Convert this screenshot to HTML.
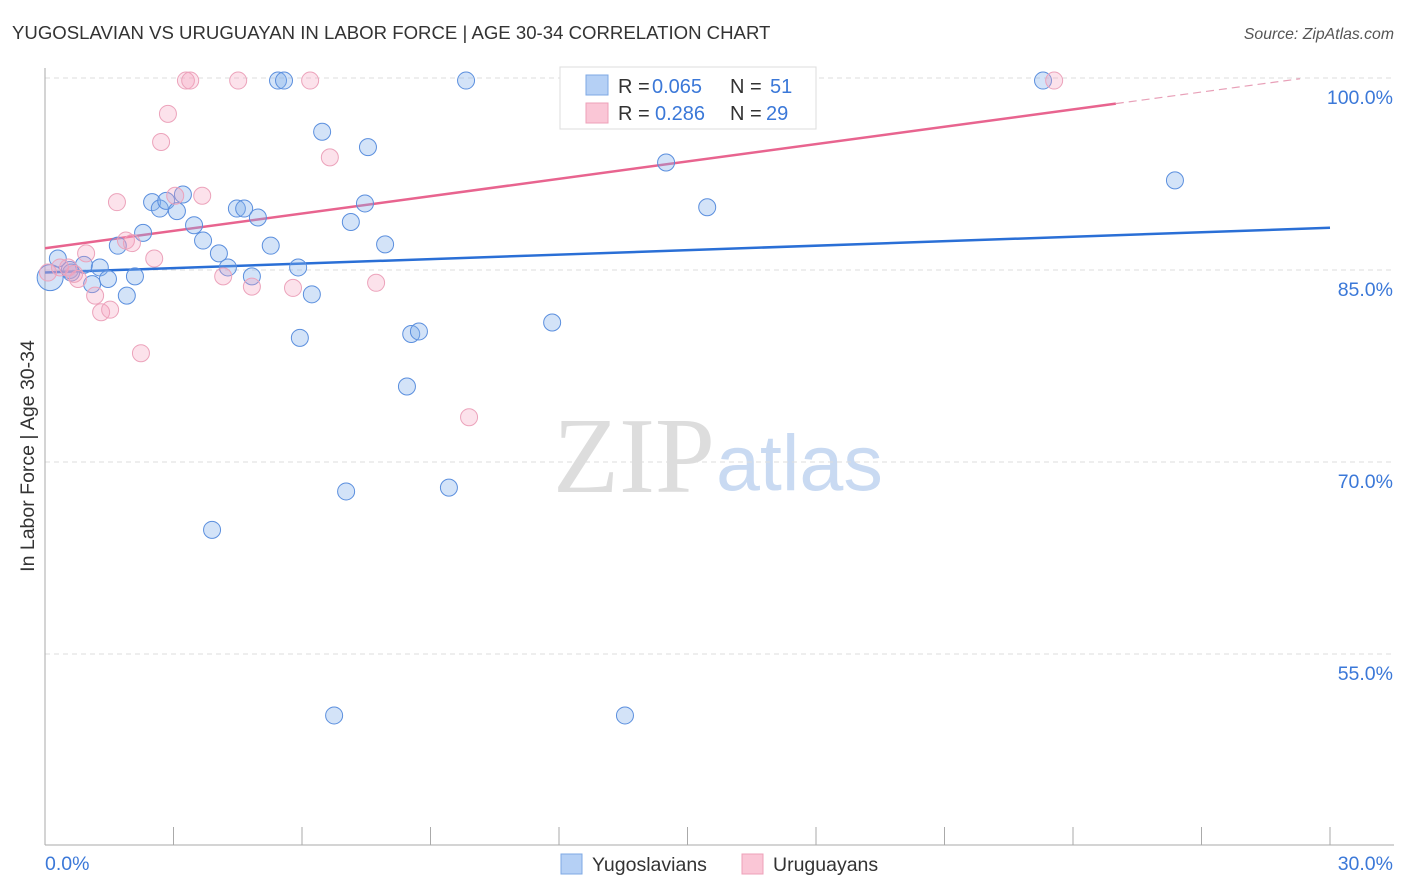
<!DOCTYPE html>
<html><head><meta charset="utf-8"><style>
body{margin:0;background:#fff;font-family:"Liberation Sans",sans-serif;}
#wrap{position:relative;width:1406px;height:892px;overflow:hidden}
</style></head><body>
<div id="wrap">
<svg id="chart" width="1406" height="892" xmlns="http://www.w3.org/2000/svg">
<text x="12" y="39" font-size="18.6" fill="#333">YUGOSLAVIAN VS URUGUAYAN IN LABOR FORCE | AGE 30-34 CORRELATION CHART</text>
<text x="1394" y="39" font-size="15.8" fill="#555" font-style="italic" text-anchor="end">Source: ZipAtlas.com</text>
<text x="34" y="456" font-size="19.5" fill="#333" text-anchor="middle" transform="rotate(-90 34 456)">In Labor Force | Age 30-34</text>
<text x="553" y="492" font-size="108" fill="#ddd" font-family="Liberation Serif,serif">ZIP</text>
<text x="716" y="490" font-size="79" fill="#c9daf2">atlas</text>
<g id="grid"></g><g id="axes"></g><g id="trend"></g><g id="pts"></g>
<g>
<rect x="560" y="67" width="256" height="62" fill="#fff" stroke="#ddd"/>
<rect x="586" y="75" width="22" height="20" fill="#b5d0f5" stroke="#7ea8e4"/>
<rect x="586" y="103" width="22" height="20" fill="#fac6d6" stroke="#eea0b8"/>
<text x="618" y="93" font-size="20" fill="#333">R =</text>
<text x="652" y="93" font-size="20" fill="#3b78d8">0.065</text>
<text x="730" y="93" font-size="20" fill="#333">N =</text>
<text x="770" y="93" font-size="20" fill="#3b78d8">51</text>
<text x="618" y="120" font-size="20" fill="#333">R =</text>
<text x="655" y="120" font-size="20" fill="#3b78d8">0.286</text>
<text x="730" y="120" font-size="20" fill="#333">N =</text>
<text x="766" y="120" font-size="20" fill="#3b78d8">29</text>
</g>
<g>
<rect x="561" y="854" width="21" height="20" fill="#b5d0f5" stroke="#7ea8e4"/>
<text x="592" y="871" font-size="19.5" fill="#333">Yugoslavians</text>
<rect x="742" y="854" width="21" height="20" fill="#fac6d6" stroke="#eea0b8"/>
<text x="773" y="871" font-size="19.5" fill="#333">Uruguayans</text>
</g>
</svg></div>
<script>
const yTicks=[100,85,70,55];
const yTickLabels=["100.0%","85.0%","70.0%","55.0%"];
const xTickLabels=["0.0%","30.0%"];
const blueX=[0.12,0.30,0.58,0.91,1.10,1.28,1.47,1.70,1.91,2.10,2.29,2.50,2.68,2.83,3.08,3.22,3.48,3.69,4.06,4.27,4.48,4.65,4.83,4.97,5.27,5.44,5.58,5.91,5.95,6.23,6.47,6.75,7.03,7.14,7.47,7.54,7.94,8.45,8.55,8.73,9.43,9.83,11.84,12.65,13.54,14.50,15.46,23.30,26.38,3.90,0.61];
const blueY=[84.4,85.9,85.0,85.4,83.9,85.2,84.3,86.9,83.0,84.5,87.9,90.3,89.8,90.4,89.6,90.9,88.5,87.3,86.3,85.2,89.8,89.8,84.5,89.1,86.9,99.8,99.8,85.2,79.7,83.1,95.8,50.2,67.7,88.75,90.2,94.6,87.0,75.9,80.0,80.2,68.0,99.8,80.9,99.8,50.2,93.4,89.9,99.8,92.0,64.7,84.8];
const pinkX=[0.07,0.35,0.54,0.77,0.96,1.17,1.31,1.52,1.68,1.89,2.03,2.24,2.55,2.71,2.87,3.04,3.29,3.39,3.67,4.16,4.51,4.83,5.79,6.19,6.65,7.73,9.90,23.56,0.68];
const pinkY=[84.8,85.2,85.2,84.3,86.3,83.0,81.7,81.9,90.3,87.3,87.1,78.5,85.9,95.0,97.2,90.8,99.8,99.8,90.8,84.5,99.8,83.7,83.6,99.8,93.8,84.0,73.5,99.8,84.7];
const blueTrend=[84.8,88.3];
const pinkTrend=[86.7,100.26];
const pinkSolidEnd=25.0;
const NS="http://www.w3.org/2000/svg";
const X=v=>45+v/30*1285;
const Y=v=>78+(100-v)*12.8;
function mk(tag,attrs,parent){const e=document.createElementNS(NS,tag);for(const k in attrs)e.setAttribute(k,attrs[k]);document.getElementById(parent).appendChild(e);return e;}
yTicks.forEach((t,i)=>{
 const l=mk('line',{x1:45,x2:1394,y1:Y(t),y2:Y(t),stroke:'#ddd','stroke-dasharray':'5,4'},'grid');
 
 
 const tx=mk('text',{x:1393,y:Y(t)+26,'font-size':19.5,fill:'#3b78d8','text-anchor':'end'},'grid');
 tx.textContent=yTickLabels[i];
 
 
});
let a=mk('line',{x1:45,x2:45,y1:68,y2:845,stroke:'#aaa'},'axes');


a=mk('line',{x1:45,x2:1394,y1:845,y2:845,stroke:'#aaa'},'axes');


for(let i=0;i<=10;i++){const tk=mk('line',{x1:X(i*3),x2:X(i*3),y1:827,y2:845,stroke:'#aaa'},'axes');
 
 }
[0,30].forEach((v,i)=>{const t=mk('text',{x:i?1393:45,y:870,'font-size':19.5,fill:'#3b78d8','text-anchor':i?'end':'start'},'axes');t.textContent=xTickLabels[i];
 
 });
const lv=(tr,x)=>tr[0]+(tr[1]-tr[0])*x/30;
let tl=mk('line',{x1:X(0),y1:Y(lv(blueTrend,0)),x2:X(30),y2:Y(lv(blueTrend,30)),stroke:'#2a6fd6','stroke-width':2.5},'trend');


tl=mk('line',{x1:X(0),y1:Y(lv(pinkTrend,0)),x2:X(pinkSolidEnd),y2:Y(lv(pinkTrend,pinkSolidEnd)),stroke:'#e8648f','stroke-width':2.5},'trend');


tl=mk('line',{x1:X(pinkSolidEnd),y1:Y(lv(pinkTrend,pinkSolidEnd)),x2:X(29.3),y2:Y(lv(pinkTrend,29.3)),stroke:'#e8a0b8','stroke-width':1.2,'stroke-dasharray':'8,5'},'trend');


blueX.forEach((x,i)=>{const c=mk('circle',{cx:X(x),cy:Y(blueY[i]),r:i==0?13:8.5,fill:'rgba(130,175,235,0.35)',stroke:'#5b8fde','stroke-width':1},'pts');
 
 });
pinkX.forEach((x,i)=>{const c=mk('circle',{cx:X(x),cy:Y(pinkY[i]),r:8.5,fill:'rgba(245,160,190,0.3)',stroke:'#eca3bb','stroke-width':1},'pts');
 
 });
</script>
</body></html>
